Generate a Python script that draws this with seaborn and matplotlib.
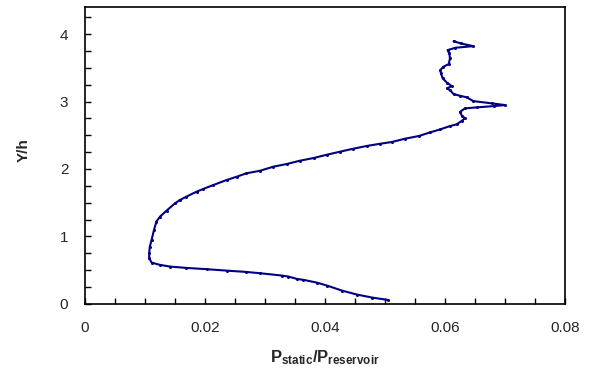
import matplotlib
matplotlib.use("Agg")
import numpy as np
import pandas as pd
import matplotlib.pyplot as plt
import seaborn as sns
from matplotlib.ticker import MultipleLocator

# pressure ratio profile (bottom to top)
p_ratio = [0.0504, 0.0478, 0.0453, 0.0428, 0.0403, 0.0386, 0.0364, 0.0353, 0.0339, 0.0328,
           0.0292, 0.0268, 0.0236, 0.0203, 0.0169, 0.0142, 0.0125, 0.0111, 0.0107, 0.0107,
           0.0108, 0.0111, 0.0115, 0.0119, 0.0125, 0.0136, 0.0150, 0.0158, 0.0169, 0.0186,
           0.0197, 0.0214, 0.0236, 0.0253, 0.0269, 0.0292, 0.0314, 0.0336, 0.0358, 0.0381,
           0.0403, 0.0425, 0.0447, 0.0469, 0.0492, 0.0511, 0.0533, 0.0556, 0.0575, 0.0592,
           0.0608, 0.0619, 0.0628, 0.0633, 0.0628, 0.0625, 0.0633, 0.0653, 0.0681, 0.0700,
           0.0678, 0.0647, 0.0636, 0.0625, 0.0614, 0.0608, 0.0603, 0.0611, 0.0603, 0.0596,
           0.0593, 0.0592, 0.0597, 0.0606, 0.0608, 0.0607, 0.0604, 0.0617, 0.0647, 0.0626,
           0.0614]
y_h = [0.059, 0.094, 0.138, 0.197, 0.272, 0.316, 0.356, 0.370, 0.405, 0.420,
       0.454, 0.474, 0.493, 0.514, 0.533, 0.553, 0.578, 0.612, 0.677, 0.751,
       0.849, 0.948, 1.096, 1.220, 1.294, 1.383, 1.491, 1.540, 1.590, 1.664,
       1.704, 1.763, 1.837, 1.886, 1.936, 1.975, 2.035, 2.074, 2.123, 2.163,
       2.212, 2.257, 2.301, 2.341, 2.375, 2.400, 2.449, 2.489, 2.543, 2.588,
       2.637, 2.662, 2.716, 2.756, 2.785, 2.849, 2.899, 2.914, 2.933, 2.948,
       2.973, 3.007, 3.062, 3.086, 3.111, 3.170, 3.195, 3.230, 3.279, 3.343,
       3.417, 3.467, 3.516, 3.556, 3.640, 3.714, 3.763, 3.798, 3.822, 3.862,
       3.896]

df = pd.DataFrame({"p": p_ratio, "y": y_h})

sns.set_style("white")
plt.rcParams["font.family"] = ["Liberation Sans", "DejaVu Sans"]
plt.rcParams["mathtext.fontset"] = "custom"
plt.rcParams["mathtext.rm"] = "Liberation Sans"
plt.rcParams["mathtext.bf"] = "Liberation Sans:bold"
plt.rcParams["mathtext.it"] = "Liberation Sans:italic"

fig = plt.figure(figsize=(5.9, 3.77), dpi=100)
ax = fig.add_axes([0.144, 0.194, 0.814, 0.787])

sns.lineplot(data=df, x="p", y="y", sort=False, estimator=None, errorbar=None,
             color="#000080", lw=1.5, marker="o", markersize=2.2,
             markeredgewidth=0, ax=ax)

ax.set_xlim(0, 0.08)
ax.set_ylim(0, 4.4)
ax.set_xticks([0, 0.02, 0.04, 0.06, 0.08])
ax.set_xticklabels(["0", "0.02", "0.04", "0.06", "0.08"])
ax.xaxis.set_minor_locator(MultipleLocator(0.005))
ax.yaxis.set_major_locator(MultipleLocator(1))
ax.yaxis.set_minor_locator(MultipleLocator(0.25))

ax.tick_params(which="both", direction="in", bottom=True, left=True,
               top=False, right=False, labelsize=11, length=4, width=1,
               color="black")
ax.tick_params(axis="x", pad=12)
ax.tick_params(axis="y", pad=12)

for s in ax.spines.values():
    s.set_color("black")
    s.set_linewidth(1.2)

ax.set_xlabel(r"$\mathbf{P_{static}/P_{reservoir}}$", fontsize=12, labelpad=10)
ax.set_ylabel("Y/h", fontsize=11, fontweight="bold")
ax.yaxis.set_label_coords(-0.113, 0.52)

fig.savefig("out.png", dpi=100)
